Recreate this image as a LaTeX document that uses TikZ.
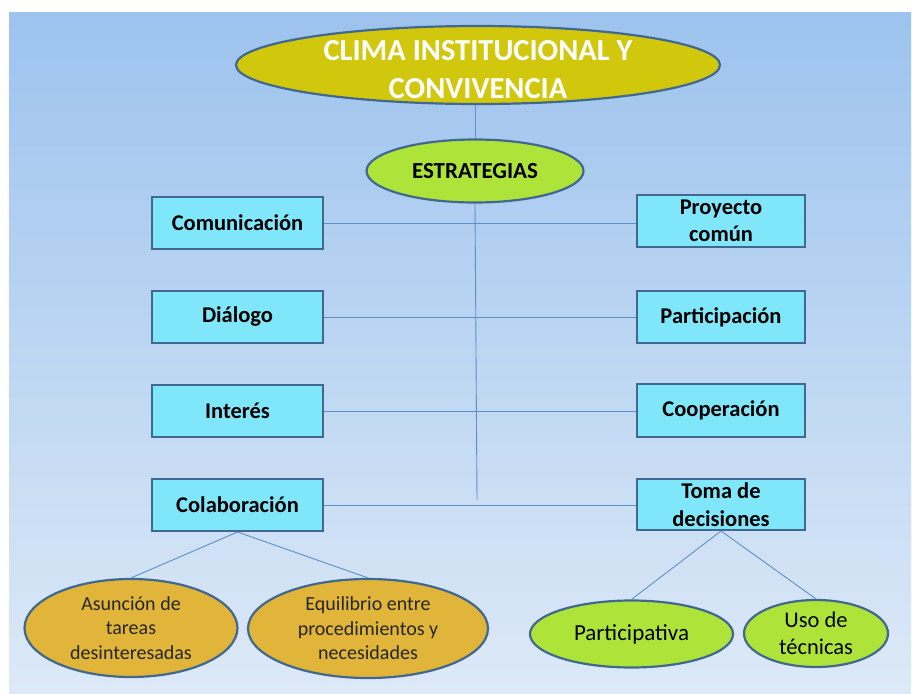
\documentclass[tikz,border=0pt]{standalone}
\usepackage{fontspec}
\setmainfont{Carlito}
\usetikzlibrary{shapes.geometric}
\definecolor{bgtop}{HTML}{9DC3EE}
\definecolor{bgbot}{HTML}{DDE9F7}
\definecolor{edge}{HTML}{41688F}
\definecolor{link}{HTML}{5E8FC6}
\definecolor{titlefill}{HTML}{D1C80E}
\definecolor{limefill}{HTML}{AEE43A}
\definecolor{goldfill}{HTML}{E1B53A}
\definecolor{boxfill}{HTML}{80E6FA}
\begin{document}
\begin{tikzpicture}[x=1pt,y=-1pt,
  oval/.style={ellipse,draw=edge,line width=2.2pt,inner sep=0pt,align=center},
  titleoval/.style={oval,fill=titlefill},
  titletext/.style={inner sep=0pt,align=center,text=white,font=\fontsize{30.5}{38}\selectfont\bfseries},
  limeoval/.style={oval,fill=limefill,text=black},
  goldoval/.style={oval,fill=goldfill,text=black!85,font=\fontsize{20}{24.5}\selectfont},
  itembox/.style={rectangle,draw=edge,line width=2pt,fill=boxfill,align=center,
    font=\fontsize{22.5}{27.5}\selectfont\bfseries,inner sep=0pt},
  conn/.style={draw=link,line width=0.9pt}]
% page and background panel
\useasboundingbox (0,0) rectangle (912,693);
\fill[white] (0,0) rectangle (912,693);
\shade[top color=bgtop,bottom color=bgbot] (9,13) rectangle (911,693);

% main ellipses
\node[titleoval,minimum width=484,minimum height=78] (clima) at (478,65) {};
\node[titletext] (climatext) at (478,70) {CLIMA INSTITUCIONAL Y\\CONVIVENCIA};
\node[limeoval,minimum width=217,minimum height=63,font=\fontsize{23}{27}\selectfont\bfseries]
  (estr) at (475,171) {ESTRATEGIAS};

% strategy boxes
\node[itembox,minimum width=171,minimum height=52] (com)  at (237.5,223) {Comunicación};
\node[itembox,minimum width=171,minimum height=52] (dia)  at (237.5,317) {Diálogo};
\node[itembox,minimum width=171,minimum height=52] (int)  at (237.5,411) {Interés};
\node[itembox,minimum width=171,minimum height=52] (col)  at (237.5,505) {Colaboración};
\node[itembox,minimum width=168,minimum height=52] (proy) at (721,221) {Proyecto\\común};
\node[itembox,minimum width=168,minimum height=52] (part) at (721,317) {Participación};
\node[itembox,minimum width=168,minimum height=53] (coop) at (721,410.5) {Cooperación};
\node[itembox,minimum width=168,minimum height=51] (toma) at (721,504.5) {Toma de\\decisiones};

% lower ellipses
\node[goldoval,minimum width=213,minimum height=98] (asun) at (131,628)
  {Asunción de\\tareas\\desinteresadas};
\node[goldoval,minimum width=240,minimum height=99] (equi) at (368,628.5)
  {Equilibrio entre\\procedimientos y\\necesidades};
\node[limeoval,minimum width=203,minimum height=67,font=\fontsize{23}{27}\selectfont]
  (parti) at (631.5,634) {Participativa};
\node[limeoval,minimum width=144,minimum height=67,font=\fontsize{22.5}{27}\selectfont]
  (uso) at (816,633.5) {Uso de\\técnicas};

% connectors
\coordinate (trunkend) at (477,500);
\draw[conn] (estr.north) -- (estr.north |- clima.south);
\draw[conn] (estr.south) -- (trunkend);
\draw[conn] (com.east) -- (com.east -| proy.west);
\draw[conn] (dia.east) -- (dia.east -| trunkend);
\draw[conn] (part.west) -- (part.west -| trunkend);
\draw[conn] (int.east) -- (int.east -| coop.west);
\draw[conn] (col.east) -- (col.east -| toma.west);
\draw[conn] (col.south) -- (asun.north);
\draw[conn] (col.south) -- (equi.north);
\draw[conn] (toma.south) -- (parti.north);
\draw[conn] (toma.south) -- (uso.north);
\end{tikzpicture}
\end{document}
